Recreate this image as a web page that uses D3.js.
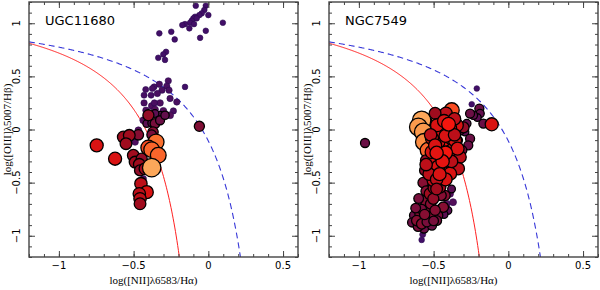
<!DOCTYPE html>
<html>
<head>
	<meta charset="utf-8">
	<script src="https://cdn.jsdelivr.net/npm/d3@7/dist/d3.min.js"></script>
	<style>
		html, body { padding: 0; margin: 0; background: #fff; }
	</style>
</head>
<body>
<script>
	var W = 600, H = 290;

	// ~ ~ ~ DATA ~ ~ ~
	// each point: [log NII/Ha, log OIII/Hb, weight (0 = faint/purple, 1 = bright/orange)]
	const UGC11680 = [
		[-0.084,1.165,0.05],[-0.017,1.165,0.05],[-0.027,1.125,0.05],[-0.044,1.093,0.05],[-0.060,1.077,0.05],
		[0.0,1.077,0.05],[-0.089,1.061,0.05],[-0.100,1.046,0.05],[-0.078,1.046,0.05],[-0.111,1.024,0.05],
		[-0.122,1.005,0.05],[-0.096,0.992,0.05],[-0.156,0.992,0.05],[-0.174,0.983,0.05],[-0.127,0.952,0.05],
		[0.097,1.005,0.05],[-0.017,0.929,0.05],[-0.328,0.905,0.05],[-0.248,0.920,0.05],[-0.055,0.863,0.05],
		[-0.225,0.848,0.05],[-0.283,0.731,0.05],[-0.301,0.707,0.05],[-0.335,0.675,0.05],[-0.290,0.655,0.05],
		[-0.268,0.458,0.1],[-0.328,0.426,0.1],[-0.363,0.401,0.08],[-0.278,0.408,0.1],[-0.156,0.401,0.05],
		[-0.310,0.370,0.1],[-0.263,0.370,0.1],[-0.341,0.339,0.1],[-0.383,0.323,0.08],[-0.430,0.323,0.08],
		[-0.256,0.292,0.1],[-0.211,0.259,0.1],[-0.430,0.250,0.1],[-0.379,0.222,0.12],[-0.323,0.250,0.12],
		[-0.361,0.250,0.1],[-0.357,0.188,0.15],[-0.301,0.175,0.15],[-0.234,0.175,0.1],[-0.417,0.181,0.12],
		[-0.401,0.150,0.15],[-0.256,0.134,0.15],[-0.323,0.134,0.2],[-0.375,0.386,0.08],[-0.419,0.376,0.08],
		[-0.435,0.087,0.15],[-0.412,0.056,0.2],[-0.468,-0.008,0.15],[-0.379,0.061,0.2],[-0.357,0.150,0.2],
		[-0.490,-0.118,0.12],[-0.435,-0.463,0.1],[-0.435,-0.510,0.1],
		[-0.401,0.134,0.45],[-0.357,0.056,0.35],[-0.060,0.030,0.38],[-0.370,-0.024,0.4],[-0.323,0.087,0.3],
		[-0.290,0.134,0.25],[-0.468,-0.050,0.4],[-0.379,-0.050,0.35],
		[-0.569,-0.071,0.5],[-0.529,-0.055,0.5],[-0.551,-0.133,0.5],[-0.747,-0.149,0.6],[-0.624,-0.275,0.6],
		[-0.502,-0.243,0.5],[-0.490,-0.307,0.5],[-0.446,-0.275,0.45],[-0.462,-0.328,0.5],[-0.457,-0.385,0.45],
		[-0.424,-0.369,0.5],[-0.451,-0.510,0.55],[-0.412,-0.590,0.6],[-0.462,-0.605,0.55],[-0.457,-0.652,0.55],
		[-0.457,-0.699,0.5],
		[-0.350,-0.118,0.82],[-0.401,-0.171,0.75],[-0.379,-0.190,0.8],[-0.335,-0.243,0.8],[-0.379,-0.359,1.0]
	];

	const NGC7549 = [
		// faint outliers and lower tail
		[-0.211,0.386,0.05],[-0.245,0.238,0.05],[-0.573,-0.989,0.08],[-0.580,-1.039,0.05],[-0.959,-0.127,0.3],
		[-0.390,-0.605,0.15],[-0.412,-0.699,0.15],[-0.370,-0.684,0.15],[-0.404,-0.762,0.2],[-0.457,-0.743,0.2],
		[-0.380,-0.560,0.2],[-0.430,-0.800,0.2],
		// lower dark red body
		[-0.631,-0.809,0.3],[-0.644,-0.875,0.3],[-0.564,-0.932,0.3],[-0.604,-0.913,0.35],[-0.511,-0.904,0.3],
		[-0.471,-0.809,0.35],[-0.435,-0.731,0.4],[-0.546,-0.731,0.4],[-0.591,-0.793,0.4],[-0.613,-0.857,0.4],
		[-0.580,-0.888,0.4],[-0.524,-0.825,0.4],[-0.479,-0.857,0.35],[-0.557,-0.668,0.4],[-0.424,-0.621,0.4],
		[-0.580,-0.750,0.35],[-0.600,-0.650,0.35],[-0.520,-0.700,0.4],[-0.450,-0.620,0.4],[-0.620,-0.740,0.35],
		[-0.545,-0.870,0.35],[-0.490,-0.760,0.4],[-0.560,-0.800,0.4],[-0.500,-0.860,0.35],
		// right edge dark purple-red
		[-0.194,0.197,0.3],[-0.189,0.150,0.25],[-0.207,0.112,0.2],[-0.167,0.056,0.3],[-0.234,0.134,0.25],
		[-0.256,0.150,0.3],[-0.278,0.056,0.25],[-0.290,-0.024,0.2],[-0.256,-0.086,0.3],[-0.268,-0.149,0.3],
		[-0.323,-0.008,0.3],[-0.337,-0.102,0.3],[-0.310,-0.196,0.35],[-0.356,-0.338,0.3],[-0.300,0.020,0.45],
		// light orange, left side
		[-0.580,0.087,1.0],[-0.602,0.024,0.95],[-0.569,-0.024,0.95],[-0.564,-0.118,0.9],[-0.537,-0.196,0.8],
		[-0.462,0.071,0.85],
		// top
		[-0.379,0.181,0.75],[-0.446,0.118,0.7],[-0.417,0.153,0.55],[-0.490,0.153,0.5],[-0.111,0.049,0.6],
		// red core
		[-0.551,-0.291,0.45],[-0.557,-0.385,0.45],[-0.537,-0.526,0.45],[-0.570,-0.500,0.4],[-0.550,-0.580,0.4],
		[-0.524,-0.605,0.5],[-0.502,-0.652,0.45],[-0.457,-0.542,0.5],[-0.500,-0.550,0.45],
		[-0.345,0.040,0.6],[-0.401,-0.133,0.65],[-0.435,-0.180,0.65],[-0.379,-0.196,0.6],[-0.457,-0.259,0.65],
		[-0.401,-0.322,0.6],[-0.446,-0.401,0.65],[-0.502,-0.322,0.6],[-0.513,-0.212,0.6],[-0.468,-0.118,0.6],
		[-0.323,-0.259,0.55],[-0.335,-0.369,0.55],[-0.390,-0.416,0.6],[-0.502,-0.479,0.55],[-0.390,0.011,0.6],
		[-0.444,-0.026,0.6],[-0.477,0.040,0.6],[-0.511,-0.083,0.6],[-0.357,-0.102,0.6],[-0.520,-0.050,0.55],
		[-0.490,-0.150,0.6],[-0.420,-0.060,0.6],[-0.360,-0.050,0.55],[-0.470,-0.350,0.6],[-0.530,-0.420,0.55],
		[-0.420,-0.470,0.6],[-0.480,-0.470,0.55],[-0.380,-0.300,0.55],[-0.340,-0.180,0.6],[-0.550,-0.330,0.55],
		[-0.420,-0.220,0.65],[-0.430,0.080,0.6],[-0.360,0.100,0.55],[-0.400,0.050,0.65],[-0.480,-0.560,0.5],
		[-0.440,-0.300,0.62],[-0.480,-0.220,0.62],[-0.460,-0.420,0.6]
	];

	const PANELS = [
		{ name: "UGC11680", points: UGC11680 },
		{ name: "NGC7549", points: NGC7549 }
	];

	const X_TICKS = [-1, -0.5, 0, 0.5];
	const Y_TICKS = [-1, -0.5, 0, 0.5, 1];
	const X_LABEL = "log([NII]\u03bb6583/H\u03b1)";
	const Y_LABEL = "log([OIII]\u03bb5007/H\u03b2)";

	// ~ ~ ~ STYLE ~ ~ ~
	const PLOT_W = 269, PLOT_H = 255, PLOT_TOP = 2;
	const PANEL_LEFT = [29, 329];

	var colorOf = d3.scaleLinear()
		.domain([0, 0.3, 0.5, 0.65, 0.85, 1])
		.range(["#3a0f6e", "#6b0f45", "#a00c1e", "#f5160e", "#fa7f34", "#fca75a"]);
	var radiusOf = d3.scaleLinear().domain([0, 1]).range([2.5, 9.2]);

	var svg = d3.select("body").append("svg")
		.attr("width", W)
		.attr("height", H);

	var x = d3.scaleLinear().domain([-1.2, 0.6]).range([0, PLOT_W]);
	var y = d3.scaleLinear().domain([-1.2, 1.2]).range([PLOT_H, 0]);
	var fmt = d3.format("~g");

	// demarcation curves (Kauffmann 2003, Kewley 2001)
	var kauffmann = (v) => 0.61 / (v - 0.05) + 1.3;
	var kewley = (v) => 0.61 / (v - 0.47) + 1.19;
	var curvePts = function(f, xmax) {
		return d3.range(-1.2, xmax, 0.005).concat([xmax]).map((v) => [v, f(v)]);
	};
	var line = d3.line().x((d) => x(d[0])).y((d) => y(d[1]));

	svg.append("defs").append("clipPath").attr("id", "clip")
		.append("rect").attr("width", PLOT_W).attr("height", PLOT_H);

	PANELS.forEach(function(p, i) {
		var g = svg.append("g").attr("transform", "translate(" + PANEL_LEFT[i] + "," + PLOT_TOP + ")");
		var inner = g.append("g").attr("clip-path", "url(#clip)");

		inner.append("path")
			.attr("d", line(curvePts(kauffmann, -0.19)))
			.attr("fill", "none")
			.attr("stroke", "#ff2020")
			.attr("stroke-width", 1);

		inner.append("path")
			.attr("d", line(curvePts(kewley, 0.22)))
			.attr("fill", "none")
			.attr("stroke", "#3838d8")
			.attr("stroke-width", 1.1)
			.attr("stroke-dasharray", "6,4");

		inner.selectAll("circle")
			.data(p.points)
			.enter().append("circle")
			.attr("cx", (d) => x(d[0]))
			.attr("cy", (d) => y(d[1]))
			.attr("r", (d) => radiusOf(d[2]))
			.attr("fill", (d) => colorOf(d[2]))
			.attr("stroke", (d) => d[2] < 0.2 ? "#2a0a50" : "#000")
			.attr("stroke-width", (d) => d[2] < 0.2 ? 0.6 : 1.3);

		// axes, ticks inside on all four sides
		var axes = [
			[d3.axisBottom(x), "translate(0," + PLOT_H + ")", X_TICKS, 0.1],
			[d3.axisTop(x), null, X_TICKS, 0.1],
			[d3.axisLeft(y), null, Y_TICKS, 0.1],
			[d3.axisRight(y), "translate(" + PLOT_W + ",0)", Y_TICKS, 0.1]
		];
		axes.forEach(function(a) {
			var isX = (a[2] === X_TICKS);
			var dom = isX ? x.domain() : y.domain();
			var minor = d3.range(Math.round(dom[0] / a[3]), Math.round(dom[1] / a[3]) + 1).map((k) => k * a[3]);
			var gm = g.append("g").call(a[0].tickValues(minor).tickSize(-3).tickFormat(""));
			var gM = g.append("g").call(a[0].tickValues(a[2]).tickSize(-6).tickFormat(""));
			[gm, gM].forEach(function(s) {
				if (a[1]) s.attr("transform", a[1]);
				s.select(".domain").remove();
				s.selectAll("line").attr("stroke", "#444").attr("stroke-width", 1);
			});
		});

		g.append("rect")
			.attr("width", PLOT_W)
			.attr("height", PLOT_H)
			.attr("fill", "none")
			.attr("stroke", "#444")
			.attr("stroke-width", 1.4);

		// tick labels
		g.selectAll(".xl").data(X_TICKS).enter().append("text")
			.attr("x", (d) => x(d))
			.attr("y", PLOT_H + 12)
			.attr("text-anchor", "middle")
			.style("font", "10px 'DejaVu Sans', sans-serif")
			.text(fmt);

		g.selectAll(".yl").data(Y_TICKS).enter().append("text")
			.attr("transform", (d) => "translate(-9," + y(d) + ") rotate(-90)")
			.attr("text-anchor", "middle")
			.style("font", "10px 'DejaVu Sans', sans-serif")
			.text(fmt);

		g.append("text")
			.attr("x", 16)
			.attr("y", 23)
			.style("font", "13px 'DejaVu Sans', sans-serif")
			.text(p.name);

		g.append("text")
			.attr("x", PLOT_W / 2 - 10)
			.attr("y", PLOT_H + 27)
			.attr("text-anchor", "middle")
			.style("font", "11px 'Liberation Serif', serif")
			.text(X_LABEL);

		g.append("text")
			.attr("transform", "translate(-18," + (PLOT_H / 2) + ") rotate(-90)")
			.attr("text-anchor", "middle")
			.style("font", "11px 'Liberation Serif', serif")
			.text(Y_LABEL);
	});
</script>
</body>
</html>
